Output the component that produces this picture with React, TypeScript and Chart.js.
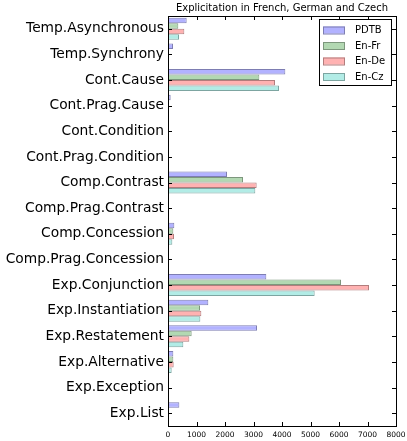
import React, { useEffect, useRef } from "react";
import { Chart, registerables } from "chart.js";

Chart.register(...registerables);

const categories = [
  "Temp.Asynchronous",
  "Temp.Synchrony",
  "Cont.Cause",
  "Cont.Prag.Cause",
  "Cont.Condition",
  "Cont.Prag.Condition",
  "Comp.Contrast",
  "Comp.Prag.Contrast",
  "Comp.Concession",
  "Comp.Prag.Concession",
  "Exp.Conjunction",
  "Exp.Instantiation",
  "Exp.Restatement",
  "Exp.Alternative",
  "Exp.Exception",
  "Exp.List",
];

const pdtb = [655, 175, 4117, 93, 0, 0, 2070, 0, 222, 0, 3450, 1415, 3123, 187, 0, 398];
const enFr = [362, 20, 3205, 0, 0, 0, 2632, 0, 187, 0, 6070, 1123, 830, 187, 0, 0];
const enDe = [573, 20, 3754, 0, 0, 0, 3111, 0, 210, 0, 7053, 1170, 749, 199, 0, 0];
const enCz = [386, 10, 3895, 0, 0, 0, 3064, 0, 152, 0, 5146, 1135, 538, 129, 0, 0];

const seriesNames = ["PDTB", "En-Fr", "En-De", "En-Cz"];
const xTicks = [0, 1000, 2000, 3000, 4000, 5000, 6000, 7000, 8000];
const title = "Explicitation in French, German and Czech";

const fills = ["rgb(178,178,255)", "rgb(178,216,178)", "rgb(255,178,178)", "rgb(178,236,230)"];
const edges = ["rgb(125,125,178)", "rgb(125,151,125)", "rgb(178,125,125)", "rgb(125,165,161)"];

const FONT = "'DejaVu Sans', sans-serif";

// Draws the axes frame, inward tick marks, title and the boxed legend.
const framePlugin = {
  id: "frame",
  afterDraw(chart: any) {
    const { ctx, chartArea: a, scales } = chart;
    const x = scales.x;
    const y = scales.y;
    ctx.save();
    ctx.strokeStyle = "#000";
    ctx.lineWidth = 1;
    ctx.strokeRect(Math.round(a.left) + 0.5, Math.round(a.top) + 0.5, Math.round(a.right - a.left), Math.round(a.bottom - a.top));

    ctx.beginPath();
    const tl = 4;
    for (let i = 0; i < categories.length; i++) {
      const py = Math.round(y.getPixelForTick(i)) + 0.5;
      ctx.moveTo(a.left, py);
      ctx.lineTo(a.left + tl, py);
      ctx.moveTo(a.right, py);
      ctx.lineTo(a.right - tl, py);
    }
    for (const v of xTicks) {
      const px = Math.round(x.getPixelForValue(v)) + 0.5;
      ctx.moveTo(px, a.bottom);
      ctx.lineTo(px, a.bottom - tl);
      ctx.moveTo(px, a.top);
      ctx.lineTo(px, a.top + tl);
    }
    ctx.stroke();

    // title
    ctx.fillStyle = "#000";
    ctx.font = `10px ${FONT}`;
    ctx.textAlign = "center";
    ctx.textBaseline = "alphabetic";
    ctx.fillText(title, (a.left + a.right) / 2, a.top - 5);

    // legend
    const lx = 319.5;
    const ly = 19.5;
    const lw = 72;
    const lh = 66;
    ctx.fillStyle = "#fff";
    ctx.fillRect(lx, ly, lw, lh);
    ctx.strokeStyle = "#000";
    ctx.strokeRect(lx, ly, lw, lh);
    ctx.font = `10px ${FONT}`;
    ctx.textAlign = "left";
    ctx.textBaseline = "middle";
    for (let i = 0; i < seriesNames.length; i++) {
      const cy = 30 + i * 15.5;
      ctx.fillStyle = fills[i];
      ctx.fillRect(323, cy - 3.5, 22, 7);
      ctx.strokeStyle = edges[i];
      ctx.strokeRect(323.5, cy - 3, 21, 7);
      ctx.fillStyle = "#000";
      ctx.fillText(seriesNames[i], 355, cy + 0.5);
    }
    ctx.restore();
  },
};

export default function App() {
  const ref = useRef<HTMLCanvasElement | null>(null);

  useEffect(() => {
    if (!ref.current) return;
    const series = [pdtb, enFr, enDe, enCz];
    const chart = new Chart(ref.current, {
      type: "bar",
      data: {
        labels: categories,
        datasets: series.map((d, i) => ({
          label: seriesNames[i],
          data: d,
          backgroundColor: fills[i],
          borderColor: edges[i],
          borderWidth: 1,
          borderSkipped: false,
          categoryPercentage: 0.86,
          barPercentage: 1,
        })),
      },
      options: {
        indexAxis: "y",
        animation: false,
        responsive: false,
        maintainAspectRatio: false,
        layout: { padding: { left: 0, right: 11, top: 16, bottom: 0 } },
        plugins: {
          legend: { display: false },
          title: { display: false },
          tooltip: { enabled: false },
        },
        scales: {
          x: {
            type: "linear",
            min: 0,
            max: 8000,
            border: { display: false },
            grid: { display: false, drawTicks: false },
            ticks: {
              stepSize: 1000,
              autoSkip: false,
              maxRotation: 0,
              padding: 5,
              color: "#000",
              font: { family: FONT, size: 7.5 },
              callback: (v: any) => String(v),
            },
            afterFit(scale: any) {
              scale.height = 15;
              scale.paddingLeft = 0;
              scale.paddingRight = 0;
            },
          },
          y: {
            type: "category",
            offset: true,
            border: { display: false },
            grid: { display: false, drawTicks: false },
            ticks: {
              autoSkip: false,
              padding: 4,
              color: "#000",
              font: { family: FONT, size: 13.8 },
            },
            afterFit(scale: any) {
              scale.width = 168;
              scale.paddingTop = 0;
              scale.paddingBottom = 0;
            },
          },
        },
      },
      plugins: [framePlugin],
    });
    return () => chart.destroy();
  }, []);

  return (
    <div style={{ position: "absolute", left: 0, top: 0, width: 407, height: 441, background: "#fff" }}>
      <canvas ref={ref} width={407} height={441} style={{ display: "block" }} />
    </div>
  );
}
